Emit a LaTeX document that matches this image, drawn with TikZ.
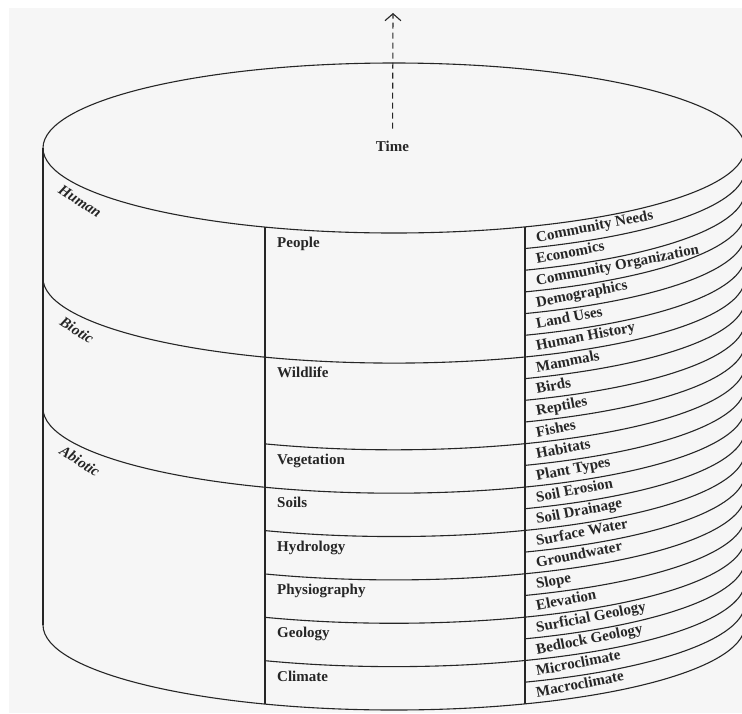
\documentclass[tikz,border=0pt]{standalone}
\usepackage{fontspec}
\setmainfont{Liberation Serif}
\usetikzlibrary{calc,arrows.meta}
\definecolor{bg}{RGB}{246,246,246}
\definecolor{ink}{RGB}{38,38,38}
\newcommand\cylband[2]{\draw[rim] ($(c)+(0,#1)+(#2:351 and 85)$) arc[start angle=#2, end angle=0, x radius=351, y radius=85];}
\begin{document}
\begin{tikzpicture}[x=1pt,y=-1pt]
\tikzset{
  rim/.style={draw=ink, line width=1.1pt},
  lab/.style={font=\fontsize{15}{17}\selectfont\bfseries, text=ink, inner sep=0pt},
  sublab/.style={lab, anchor=base west, rotate=11},
  midlab/.style={lab, anchor=base west},
  grouplab/.style={font=\fontsize{15}{17}\selectfont\bfseries\itshape, text=ink, inner sep=0pt, rotate=-33},
  timearrow/.style={draw=ink, line width=1.1pt, dash pattern=on 6pt off 4pt, -{Straight Barb[length=7pt,width=16pt]}}
}
\useasboundingbox (0,0) rectangle (742,713);
\fill[white] (0,0) rectangle (742,713);
\fill[bg] (9,8) rectangle (742,713);
\coordinate (c) at (394,148);
% top ellipse
\draw[rim] (c) ellipse[x radius=351, y radius=85];
% left side
\draw[rim] ($(c)+(180:351 and 85)$) -- ++(0,477);
% bottom
\cylband{477}{180}
% full-width boundaries
\cylband{130.09}{180}
\cylband{260.18}{180}
% middle-column boundaries
\foreach \k in {5,7,8,9,10} {\cylband{\k*43.3636}{111.56}}
% right-column boundaries
\foreach \j in {1,2,3,4,5,7,8,9,11,13,15,17,19,21} {\cylband{\j*21.6818}{68.08}}
% column dividers
\draw[rim] ($(c)+(111.56:351 and 85)$) -- ++(0,477);
\draw[rim] ($(c)+(68.08:351 and 85)$) -- ++(0,477);
% time axis
\node[lab] (time) at (392.5,146) {Time};
\coordinate (arrowtip) at (393,13);
\draw[timearrow, shorten <=12pt] (time.north) -- (arrowtip);
% group labels
\node[grouplab] (human) at (80,201) {Human};
\node[grouplab] (biotic) at (77,330) {Biotic};
\node[grouplab] (abiotic) at (80,461) {Abiotic};
% middle labels
\foreach \k/\t/\n in {0/People/people,3/Wildlife/wildlife,5/Vegetation/vegetation,6/Soils/soils,7/Hydrology/hydrology,8/Physiography/physio,9/Geology/geology,10/Climate/climate}
  {\node[midlab] (\n) at (277,247.6+\k*43.3636) {\t};}
% right labels
\foreach \i/\t in {0/Community Needs,1/Economics,2/Community Organization,3/Demographics,4/Land Uses,5/Human History,6/Mammals,7/Birds,8/Reptiles,9/Fishes,10/Habitats,11/Plant Types,12/Soil Erosion,13/Soil Drainage,14/Surface Water,15/Groundwater,16/Slope,17/Elevation,18/Surficial Geology,19/Bedlock Geology,20/Microclimate,21/Macroclimate}
  {\node[sublab] (sub\i) at (537,242.1+\i*21.6818) {\t};}
\end{tikzpicture}
\end{document}
